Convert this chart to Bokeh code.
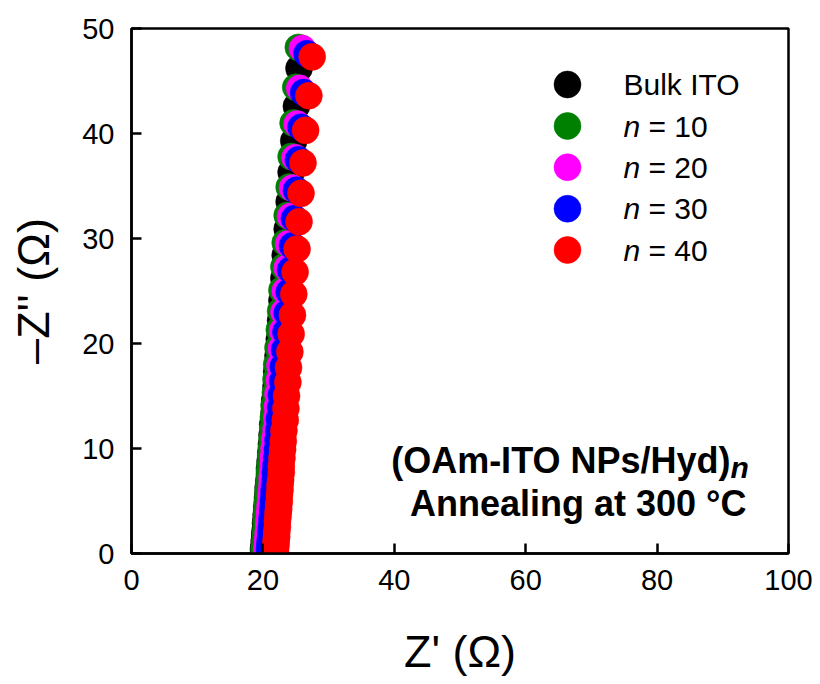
from bokeh.embed import file_html
from bokeh.models import FixedTicker, Label, Range1d
from bokeh.plotting import figure
from bokeh.resources import INLINE

# Nyquist data: real part Z' and imaginary part -Z'' (ohm), high to low -Z''
bulk_re = [25.5, 25.1, 24.7, 24.3, 24.0, 23.7, 23.4, 23.2, 22.9, 22.7,
           22.5, 22.3, 22.1, 22.0, 21.8, 21.7, 21.5, 21.4, 21.3, 21.2,
           21.1, 21.0, 21.0, 20.9, 20.8, 20.8, 20.7, 20.7, 20.6, 20.6,
           20.5, 20.5, 20.4, 20.4, 20.3, 20.3, 20.2, 20.2, 20.1, 20.1]
bulk_im = [46.2, 42.6, 39.3, 36.3, 33.5, 30.9, 28.4, 26.2, 24.1, 22.2,
           20.4, 18.8, 17.3, 15.9, 14.6, 13.4, 12.3, 11.3, 10.4, 9.6,
           8.8, 8.1, 7.5, 6.9, 6.3, 5.8, 5.3, 4.9, 4.5, 4.1,
           3.7, 3.3, 2.9, 2.4, 2.0, 1.6, 1.2, 0.8, 0.5, 0.3]

n10_re = [25.4, 25.0, 24.6, 24.3, 24.0, 23.7, 23.4, 23.2, 22.9, 22.7,
          22.5, 22.3, 22.1, 22.0, 21.9, 21.7, 21.6, 21.5, 21.4, 21.3,
          21.2, 21.1, 21.0, 21.0, 20.9, 20.8, 20.8, 20.7, 20.7, 20.6,
          20.6, 20.6, 20.5, 20.5, 20.4, 20.4, 20.3, 20.3, 20.2, 20.2]
n10_im = [48.2, 44.4, 41.0, 37.8, 34.9, 32.2, 29.6, 27.3, 25.1, 23.1,
          21.3, 19.6, 18.0, 16.6, 15.3, 14.1, 13.0, 11.9, 11.0, 10.1,
          9.3, 8.5, 7.8, 7.2, 6.6, 6.0, 5.5, 5.0, 4.6, 4.2,
          3.8, 3.4, 3.0, 2.5, 2.0, 1.6, 1.2, 0.8, 0.5, 0.3]

n20_re = [26.0, 25.6, 25.2, 24.9, 24.5, 24.2, 23.9, 23.7, 23.4, 23.2,
          23.0, 22.8, 22.6, 22.5, 22.3, 22.2, 22.1, 22.0, 21.8, 21.7,
          21.6, 21.6, 21.5, 21.4, 21.4, 21.3, 21.2, 21.2, 21.1, 21.1,
          21.0, 21.0, 20.9, 20.9, 20.8, 20.8, 20.7, 20.7, 20.6, 20.6]
n20_im = [48.1, 44.3, 40.9, 37.7, 34.8, 32.1, 29.5, 27.2, 25.0, 23.0,
          21.2, 19.5, 17.9, 16.5, 15.2, 14.0, 12.9, 11.8, 10.9, 10.0,
          9.2, 8.5, 7.8, 7.2, 6.6, 6.0, 5.5, 5.0, 4.6, 4.2,
          3.8, 3.4, 3.0, 2.5, 2.0, 1.6, 1.2, 0.8, 0.5, 0.3]

n30_re = [26.7, 26.2, 25.8, 25.4, 25.1, 24.8, 24.5, 24.2, 24.0, 23.7,
          23.5, 23.3, 23.1, 23.0, 22.8, 22.7, 22.5, 22.4, 22.3, 22.2,
          22.1, 22.0, 21.9, 21.9, 21.8, 21.7, 21.7, 21.6, 21.6, 21.5,
          21.5, 21.4, 21.4, 21.3, 21.2, 21.2, 21.1, 21.1, 21.0, 21.0]
n30_im = [47.6, 43.9, 40.6, 37.5, 34.6, 31.9, 29.3, 27.0, 24.9, 22.9,
          21.1, 19.4, 17.8, 16.4, 15.1, 13.9, 12.8, 11.7, 10.8, 9.9,
          9.1, 8.4, 7.7, 7.1, 6.5, 6.0, 5.5, 5.0, 4.6, 4.2,
          3.8, 3.4, 3.0, 2.5, 2.0, 1.6, 1.2, 0.8, 0.5, 0.3]

n40_re = [27.5, 27.0, 26.5, 26.1, 25.8, 25.5, 25.2, 24.9, 24.7, 24.5,
          24.3, 24.1, 23.9, 23.8, 23.6, 23.5, 23.4, 23.2, 23.1, 23.0,
          22.9, 22.8, 22.8, 22.7, 22.6, 22.6, 22.5, 22.5, 22.4, 22.4,
          22.3, 22.3, 22.2, 22.2, 22.1, 22.1, 22.0, 22.0, 21.9, 21.9]
n40_im = [47.3, 43.6, 40.3, 37.2, 34.3, 31.6, 29.0, 26.8, 24.7, 22.7,
          20.9, 19.2, 17.7, 16.3, 15.0, 13.8, 12.7, 11.7, 10.7, 9.9,
          9.1, 8.3, 7.7, 7.0, 6.5, 6.0, 5.5, 5.0, 4.6, 4.2,
          3.9, 3.5, 3.0, 2.5, 2.0, 1.6, 1.2, 0.8, 0.5, 0.3]

series_prefix = ["Bulk ITO", "n", "n", "n", "n"]
series_suffix = ["", "= 10", "= 20", "= 30", "= 40"]
series_colors = ["#000000", "#008000", "#ff00ff", "#0000ff", "#ff0000"]
series_re = [bulk_re, n10_re, n20_re, n30_re, n40_re]
series_im = [bulk_im, n10_im, n20_im, n30_im, n40_im]

x_ticks = [0, 20, 40, 60, 80, 100]
y_ticks = [0, 10, 20, 30, 40, 50]
x_title = "Z' (\u03a9)"
y_title = "\u2013Z'' (\u03a9)"

# canvas and frame geometry (pixels)
W, H = 820, 684
FL, FR, FT, FB = 131, 788, 28, 553
X0, X1, Y0, Y1 = 0, 100, 0, 50

SANS = "Liberation Sans"


def sx(px):
    """Canvas x pixel -> data x."""
    return X0 + (px - FL) * (X1 - X0) / (FR - FL)


def sy(py):
    """Canvas y pixel -> data y."""
    return Y0 + (FB - py) * (Y1 - Y0) / (FB - FT)


p = figure(width=W, height=H, output_backend="svg", toolbar_location=None,
           x_range=Range1d(X0, X1), y_range=Range1d(Y0, Y1),
           min_border_left=FL, min_border_right=W - FR,
           min_border_top=FT, min_border_bottom=H - FB)
p.background_fill_color = "white"
p.border_fill_color = "white"
p.outline_line_color = "black"
p.outline_line_width = 2.5
p.xgrid.visible = False
p.ygrid.visible = False

for ax, ticks in ((p.xaxis[0], x_ticks), (p.yaxis[0], y_ticks)):
    ax.ticker = FixedTicker(ticks=ticks)
    ax.axis_line_width = 2.5
    ax.axis_line_color = "black"
    ax.major_tick_line_width = 2.5
    ax.major_tick_line_color = "black"
    ax.major_tick_in = 10
    ax.major_tick_out = 0
    ax.minor_tick_line_color = None
    ax.major_label_text_font = SANS
    ax.major_label_text_font_size = "29px"
    ax.major_label_text_color = "black"
    ax.axis_label_text_font = SANS
    ax.axis_label_text_font_size = "45px"
    ax.axis_label_text_font_style = "normal"
    ax.axis_label_text_color = "black"
p.xaxis.major_label_standoff = 16
p.yaxis.major_label_standoff = 17
p.xaxis.axis_label = x_title
p.yaxis.axis_label = y_title
p.xaxis.axis_label_standoff = 33
p.yaxis.axis_label_standoff = 20

# data markers
for xs, ys, c in zip(series_re, series_im, series_colors):
    p.scatter(xs, ys, size=27, fill_color=c, line_color=c, line_width=0.5)

# legend
leg_cx = 567
leg_tx = 623
leg_rows = [84, 125.5, 166.8, 208.2, 249.5]
for prefix, suffix, c, ry in zip(series_prefix, series_suffix, series_colors, leg_rows):
    p.scatter([sx(leg_cx)], [sy(ry)], size=27, fill_color=c, line_color=c, line_width=0.5)
    if suffix:
        p.add_layout(Label(x=sx(leg_tx), y=sy(ry), text=prefix, text_font=SANS,
                           text_font_size="30px", text_font_style="italic",
                           text_baseline="middle", text_align="left", text_color="black"))
        p.add_layout(Label(x=sx(leg_tx + 25), y=sy(ry), text=suffix, text_font=SANS,
                           text_font_size="30px", text_baseline="middle",
                           text_align="left", text_color="black"))
    else:
        p.add_layout(Label(x=sx(leg_tx), y=sy(ry), text=prefix, text_font=SANS,
                           text_font_size="30px", text_baseline="middle",
                           text_align="left", text_color="black"))

# sample annotation
p.add_layout(Label(x=sx(730), y=sy(460), text="(OAm-ITO NPs/Hyd)", text_font=SANS,
                   text_font_size="36px", text_font_style="bold",
                   text_baseline="alphabetic", text_align="right", text_color="black"))
p.add_layout(Label(x=sx(730), y=sy(467), text="n", text_font=SANS,
                   text_font_size="30px", text_font_style="bold italic",
                   text_baseline="alphabetic", text_align="left", text_color="black"))
p.add_layout(Label(x=sx(746), y=sy(503), text="Annealing at 300 \u00b0C", text_font=SANS,
                   text_font_size="36px", text_font_style="bold",
                   text_baseline="alphabetic", text_align="right", text_color="black"))

open("out.html", "w").write(file_html(p, INLINE))
